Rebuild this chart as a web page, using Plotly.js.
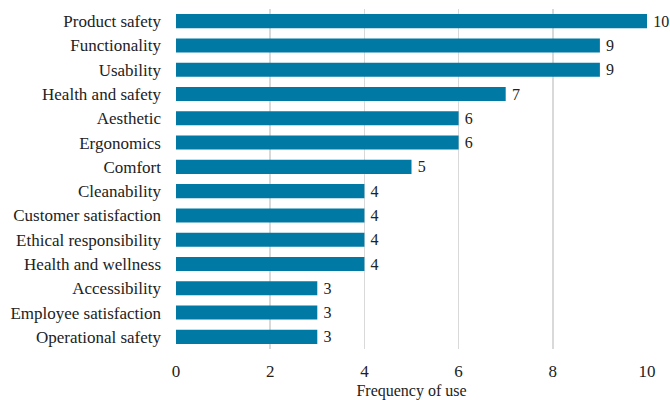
<!DOCTYPE html>
<html>
<head>
<meta charset="utf-8">
<script src="https://cdn.plot.ly/plotly-3.0.1.min.js"></script>
<style>
html,body{margin:0;padding:0;background:#fff;}
</style>
</head>
<body>
<div id="chart" style="width:670px;height:400px;"></div>
<script>
const categories = ["Product safety","Functionality","Usability","Health and safety","Aesthetic","Ergonomics","Comfort","Cleanability","Customer satisfaction","Ethical responsibility","Health and wellness","Accessibility","Employee satisfaction","Operational safety"];
const values = [10,9,9,7,6,6,5,4,4,4,4,3,3,3];
const xTicks = [0,2,4,6,8,10];

const serif = 'Times New Roman';
const trace = {
  type: 'bar',
  orientation: 'h',
  y: categories,
  x: values,
  width: 0.58,
  marker: {color: '#007aa5'},
  text: values.map(v => '\u2009' + v),
  textposition: 'outside',
  constraintext: 'none',
  textfont: {family: serif, size: 16, color: '#222222'},
  cliponaxis: false,
  hoverinfo: 'none'
};
const layout = {
  width: 670, height: 400,
  margin: {l: 176, r: 23, t: 9, b: 51},
  paper_bgcolor: '#fff', plot_bgcolor: '#fff',
  showlegend: false,
  xaxis: {
    range: [0, 10], tickvals: xTicks, ticktext: xTicks.map(String),
    showgrid: true, gridcolor: '#d9d9d9', gridwidth: 1.5,
    zeroline: false, showline: false, ticks: '',
    ticklabelstandoff: 10,
    tickfont: {family: serif, size: 17, color: '#222222'},
    title: {text: 'Frequency of use', font: {family: serif, size: 16, color: '#222222'}, standoff: 6}
  },
  yaxis: {
    autorange: 'reversed', type: 'category',
    showgrid: false, zeroline: false, showline: false, ticks: '',
    ticklabelstandoff: 14,
    tickfont: {family: serif, size: 17, color: '#222222'}
  }
};
Plotly.newPlot('chart', [trace], layout, {staticPlot: true}).then(function(gd){
  gd.querySelectorAll('text').forEach(function(t){ t.style.fontFamily = serif; });
});
</script>
</body>
</html>
